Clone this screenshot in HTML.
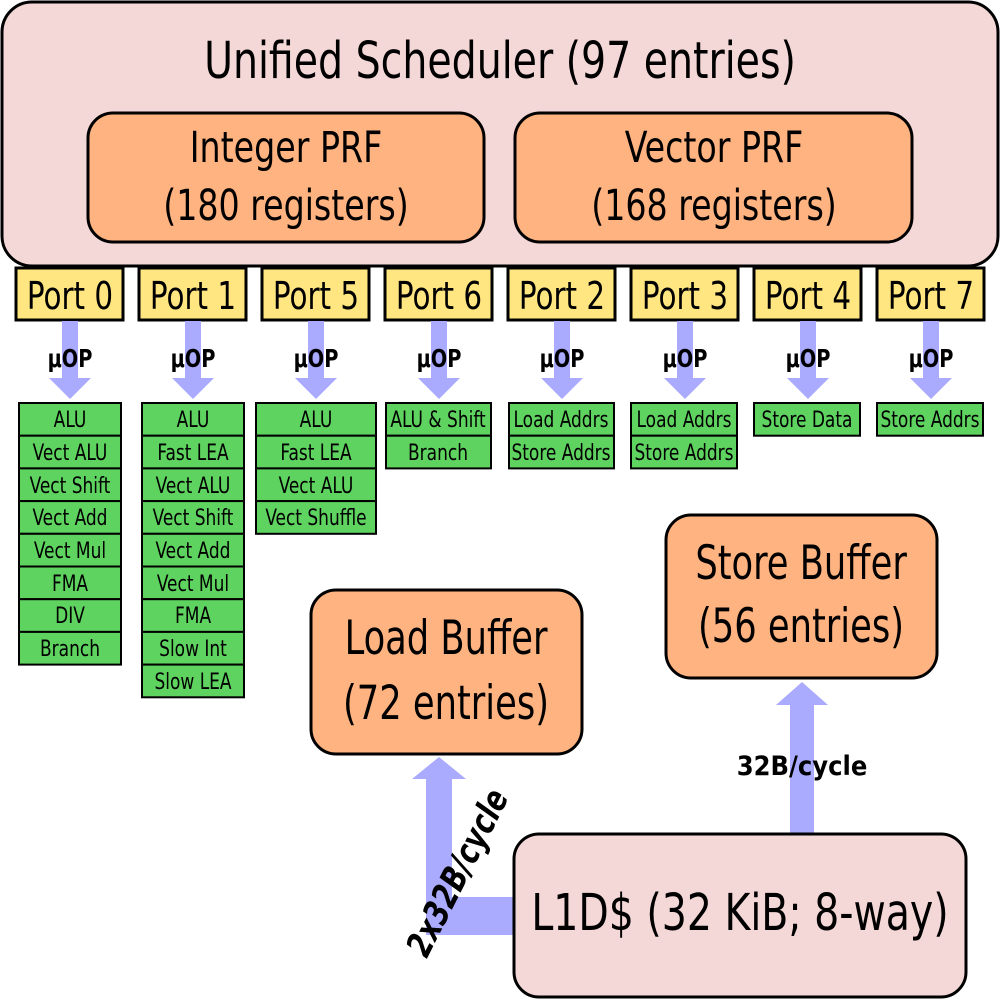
<!DOCTYPE html>
<html><head><meta charset="utf-8"><style>html,body{margin:0;padding:0;background:#fff}
text.c{transform-box:fill-box;transform-origin:center;transform:scaleX(0.86)}
text.d{transform-box:fill-box;transform-origin:center;transform:scaleX(0.835)}
</style></head><body>
<svg width="1000" height="1000" viewBox="0 0 1000 1000" xmlns="http://www.w3.org/2000/svg" font-family="DejaVu Sans Condensed, DejaVu Sans, sans-serif" text-anchor="middle">
<rect x="2" y="2" width="996" height="264" rx="30" fill="#f4d7d7" stroke="#000" stroke-width="3"/>
<text class="c" x="500" y="78" font-size="51">Unified Scheduler (97 entries)</text>
<rect x="88" y="113" width="396" height="129" rx="25" fill="#ffb380" stroke="#000" stroke-width="3"/>
<text class="c" x="286" y="162" font-size="43">Integer PRF</text>
<text class="c" x="286" y="220" font-size="43">(180 registers)</text>
<rect x="515" y="113" width="397" height="129" rx="25" fill="#ffb380" stroke="#000" stroke-width="3"/>
<text class="c" x="714" y="162" font-size="43">Vector PRF</text>
<text class="c" x="714" y="220" font-size="43">(168 registers)</text>
<g fill="#ffe680" stroke="#000" stroke-width="3">
<rect x="16" y="268" width="107" height="52"/><rect x="139" y="268" width="107" height="52"/>
<rect x="262" y="268" width="107" height="52"/><rect x="385" y="268" width="107" height="52"/>
<rect x="508" y="268" width="107" height="52"/><rect x="631" y="268" width="107" height="52"/>
<rect x="754" y="268" width="107" height="52"/><rect x="877" y="268" width="107" height="52"/>
</g>
<g font-size="38">
<text class="c" x="70" y="309">Port 0</text><text class="c" x="193" y="309">Port 1</text><text class="c" x="316" y="309">Port 5</text><text class="c" x="439" y="309">Port 6</text>
<text class="c" x="562" y="309">Port 2</text><text class="c" x="685" y="309">Port 3</text><text class="c" x="808" y="309">Port 4</text><text class="c" x="931" y="309">Port 7</text>
</g>
<g fill="#aaaaff">
<path d="M62 321h16v57h13l-21 21l-21-21h13z"/>
<path d="M185 321h16v57h13l-21 21l-21-21h13z"/>
<path d="M308 321h16v57h13l-21 21l-21-21h13z"/>
<path d="M431 321h16v57h13l-21 21l-21-21h13z"/>
<path d="M554 321h16v57h13l-21 21l-21-21h13z"/>
<path d="M677 321h16v57h13l-21 21l-21-21h13z"/>
<path d="M800 321h16v57h13l-21 21l-21-21h13z"/>
<path d="M923 321h16v57h13l-21 21l-21-21h13z"/>
<path d="M426 935V779h-14l27-22l27 22h-14v118h62v38z"/>
<path d="M790 834V705h-14l26-23l26 23h-14v129z"/>
</g>
<g font-size="25" font-weight="bold">
<text class="c" x="70" y="367">μOP</text><text class="c" x="193" y="367">μOP</text><text class="c" x="316" y="367">μOP</text><text class="c" x="439" y="367">μOP</text>
<text class="c" x="562" y="367">μOP</text><text class="c" x="685" y="367">μOP</text><text class="c" x="808" y="367">μOP</text><text class="c" x="931" y="367">μOP</text>
</g>
<g fill="#5fd35f" stroke="#000" stroke-width="2">
<rect x="19" y="403" width="102" height="32.7"/><rect x="19" y="435.7" width="102" height="32.7"/><rect x="19" y="468.4" width="102" height="32.7"/><rect x="19" y="501.1" width="102" height="32.7"/><rect x="19" y="533.8" width="102" height="32.7"/><rect x="19" y="566.5" width="102" height="32.7"/><rect x="19" y="599.2" width="102" height="32.7"/><rect x="19" y="631.9" width="102" height="32.7"/>
<rect x="142" y="403" width="102" height="32.7"/><rect x="142" y="435.7" width="102" height="32.7"/><rect x="142" y="468.4" width="102" height="32.7"/><rect x="142" y="501.1" width="102" height="32.7"/><rect x="142" y="533.8" width="102" height="32.7"/><rect x="142" y="566.5" width="102" height="32.7"/><rect x="142" y="599.2" width="102" height="32.7"/><rect x="142" y="631.9" width="102" height="32.7"/><rect x="142" y="664.6" width="102" height="32.7"/>
<rect x="256" y="403" width="120" height="32.7"/><rect x="256" y="435.7" width="120" height="32.7"/><rect x="256" y="468.4" width="120" height="32.7"/><rect x="256" y="501.1" width="120" height="32.7"/>
<rect x="386" y="403" width="105" height="32.7"/><rect x="386" y="435.7" width="105" height="32.7"/>
<rect x="509" y="403" width="105" height="32.7"/><rect x="509" y="435.7" width="105" height="32.7"/>
<rect x="631" y="403" width="106" height="32.7"/><rect x="631" y="435.7" width="106" height="32.7"/>
<rect x="754" y="403" width="106" height="32.7"/>
<rect x="877" y="403" width="106" height="32.7"/>
</g>
<g font-size="22">
<text class="c" x="70" y="427">ALU</text><text class="c" x="70" y="460">Vect ALU</text><text class="c" x="70" y="493">Vect Shift</text><text class="c" x="70" y="525">Vect Add</text><text class="c" x="70" y="558">Vect Mul</text><text class="c" x="70" y="591">FMA</text><text class="c" x="70" y="623">DIV</text><text class="c" x="70" y="656">Branch</text>
<text class="c" x="193" y="427">ALU</text><text class="c" x="193" y="460">Fast LEA</text><text class="c" x="193" y="493">Vect ALU</text><text class="c" x="193" y="525">Vect Shift</text><text class="c" x="193" y="558">Vect Add</text><text class="c" x="193" y="591">Vect Mul</text><text class="c" x="193" y="623">FMA</text><text class="c" x="193" y="656">Slow Int</text><text class="c" x="193" y="689">Slow LEA</text>
<text class="c" x="316" y="427">ALU</text><text class="c" x="316" y="460">Fast LEA</text><text class="c" x="316" y="493">Vect ALU</text><text class="c" x="316" y="525">Vect Shuffle</text>
<text class="c" x="438" y="427">ALU &amp; Shift</text><text class="c" x="438" y="460">Branch</text>
<text class="c" x="561" y="427">Load Addrs</text><text class="c" x="561" y="460">Store Addrs</text>
<text class="c" x="684" y="427">Load Addrs</text><text class="c" x="684" y="460">Store Addrs</text>
<text class="c" x="807" y="427">Store Data</text>
<text class="c" x="930" y="427">Store Addrs</text>
</g>
<rect x="311" y="590" width="271" height="164" rx="25" fill="#ffb380" stroke="#000" stroke-width="3"/>
<text class="d" x="446" y="654" font-size="47">Load Buffer</text>
<text class="d" x="446" y="719" font-size="47">(72 entries)</text>
<rect x="666" y="515" width="271" height="163" rx="25" fill="#ffb380" stroke="#000" stroke-width="3"/>
<text class="d" x="801" y="579" font-size="47">Store Buffer</text>
<text class="d" x="801" y="642" font-size="47">(56 entries)</text>
<rect x="514" y="834" width="452" height="163" rx="25" fill="#f4d7d7" stroke="#000" stroke-width="3"/>
<text class="c" x="740" y="930" font-size="51">L1D$ (32 KiB; 8-way)</text>
<text x="802" y="775" font-size="27" font-weight="bold">32B/cycle</text>
<g transform="translate(468,878) rotate(-63)"><text class="c" x="0" y="0" font-size="35" font-weight="bold" font-style="italic">2x32B/cycle</text></g>
</svg>
</body></html>
